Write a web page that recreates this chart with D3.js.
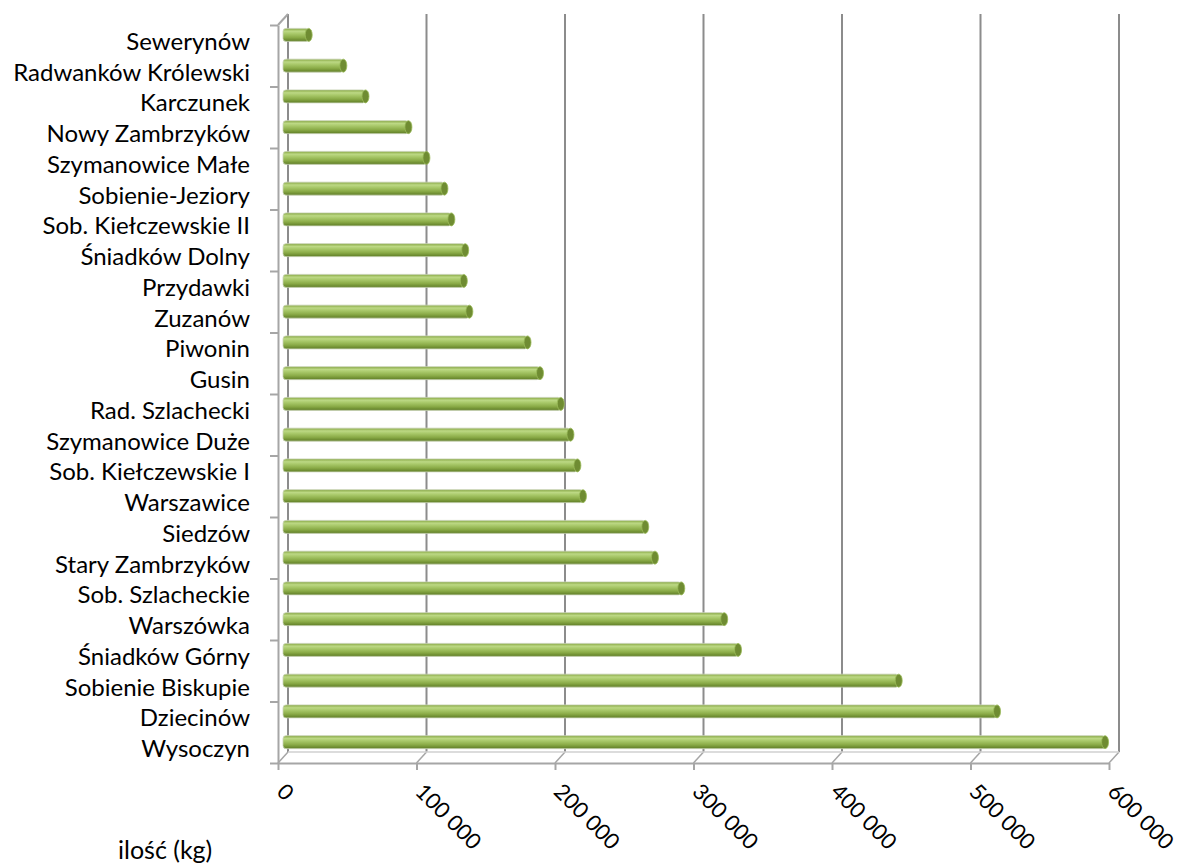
<!DOCTYPE html>
<html>
<head>
<meta charset="utf-8">
<title>ilość (kg)</title>
<script src="https://d3js.org/d3.v7.min.js"></script>
<style>
    body { margin: 0; background: #fff; }
    text { font-family: Lato, "Open Sans", sans-serif; fill: #000; }
</style>
</head>
<body>
<svg width="1182" height="864"></svg>
<script>
    const width = 1182;
    const height = 864;

    // data, top to bottom
    const categories = [
        "Sewerynów", "Radwanków Królewski", "Karczunek", "Nowy Zambrzyków",
        "Szymanowice Małe", "Sobienie-Jeziory", "Sob. Kiełczewskie II", "Śniadków Dolny",
        "Przydawki", "Zuzanów", "Piwonin", "Gusin", "Rad. Szlachecki",
        "Szymanowice Duże", "Sob. Kiełczewskie I", "Warszawice", "Siedzów",
        "Stary Zambrzyków", "Sob. Szlacheckie", "Warszówka", "Śniadków Górny",
        "Sobienie Biskupie", "Dziecinów", "Wysoczyn"
    ];
    const values = [
        20000, 45000, 61000, 92000,
        105000, 118000, 123000, 133000,
        132000, 136000, 178000, 187000, 202000,
        209000, 214000, 218000, 263000,
        270000, 289000, 320000, 330000,
        446000, 517000, 595000
    ];
    const xTicks = [0, 100000, 200000, 300000, 400000, 500000, 600000];
    const axisTitle = "ilość (kg)";

    const svg = d3.select("svg");

    // 3d depth offset of the back wall
    const dx = 10, dy = -11;

    const x = d3.scaleLinear().domain([0, 600000]).range([278, 1109]);
    const y = d3.scaleBand().domain(categories).range([25, 763]);

    const fmt = v => d3.format(",")(v).replace(/,/g, " ");

    const defs = svg.append("defs");
    const grad = defs.append("linearGradient")
        .attr("id", "cyl")
        .attr("x1", 0).attr("y1", 0).attr("x2", 0).attr("y2", 1);
    [["0%", "#86a642"], ["22%", "#bcd884"], ["40%", "#a9c96a"], ["70%", "#8aab47"], ["100%", "#5f7d26"]]
        .forEach(s => grad.append("stop").attr("offset", s[0]).attr("stop-color", s[1]));

    const gridColor = "#8c8c8c";
    const axisColor = "#a6a6a6";

    // walls / floor outline
    const frame = svg.append("g").attr("fill", "none");
    const yTop = y.range()[0], yBottom = y.range()[1];
    const x0 = x(0), x1 = x(600000);

    // back gridlines with floor connectors
    xTicks.forEach(t => {
        frame.append("line")
            .attr("x1", x(t) + dx).attr("x2", x(t) + dx)
            .attr("y1", yTop + dy).attr("y2", yBottom + dy)
            .attr("stroke", gridColor).attr("stroke-width", 2);
        frame.append("line")
            .attr("x1", x(t)).attr("y1", yBottom)
            .attr("x2", x(t) + dx).attr("y2", yBottom + dy)
            .attr("stroke", axisColor).attr("stroke-width", 1.5);
    });

    // back floor edge and left wall
    frame.append("line")
        .attr("x1", x0 + dx).attr("x2", x1 + dx)
        .attr("y1", yBottom + dy).attr("y2", yBottom + dy)
        .attr("stroke", "#d0d0d0").attr("stroke-width", 1.5);
    frame.append("line")
        .attr("x1", x0).attr("y1", yTop)
        .attr("x2", x0 + dx).attr("y2", yTop + dy)
        .attr("stroke", axisColor).attr("stroke-width", 2);

    // bars (cylinders) at mid depth
    const bh = 13;
    const bars = svg.append("g");
    const rows = bars.selectAll("g")
        .data(categories.map((c, i) => ({ c, v: values[i] })))
        .join("g")
        .attr("transform", d => `translate(0,${y(d.c) + y.bandwidth() / 2 + dy / 2})`);

    rows.append("rect")
        .attr("x", x(0) + dx / 2)
        .attr("y", -bh / 2)
        .attr("width", d => x(d.v) - x(0) - 2)
        .attr("height", bh)
        .attr("rx", 3)
        .attr("fill", "url(#cyl)")
        .attr("stroke", "#c9d3b8")
        .attr("stroke-width", 0.8);

    rows.append("ellipse")
        .attr("cx", d => x(d.v) + dx / 2 - 2)
        .attr("cy", 0)
        .attr("rx", 3.5)
        .attr("ry", bh / 2)
        .attr("fill", "#6f8c32")
        .attr("stroke", "#9bbb59")
        .attr("stroke-width", 0.8);

    // front axes
    const xAxis = svg.append("g")
        .attr("transform", `translate(0,${yBottom})`)
        .call(d3.axisBottom(x).tickValues(xTicks).tickFormat(fmt).tickSize(7).tickSizeOuter(0));
    xAxis.select(".domain").attr("stroke", axisColor).attr("stroke-width", 2);
    xAxis.selectAll(".tick line").attr("stroke", axisColor).attr("stroke-width", 2);
    xAxis.selectAll(".tick text")
        .attr("font-size", 22)
        .attr("text-anchor", "start")
        .attr("y", 0)
        .attr("dy", 0)
        .attr("transform", "translate(-3,30) rotate(45)");

    const yAxis = svg.append("g")
        .attr("transform", `translate(${x0},0)`)
        .call(d3.axisLeft(y).tickSize(0).tickPadding(28));
    yAxis.select(".domain").attr("stroke", axisColor).attr("stroke-width", 2);
    yAxis.selectAll(".tick text")
        .attr("font-size", 24)
        .attr("dy", "0.4em");

    // category tick marks every two rows
    const yLin = d3.scaleLinear().domain([0, categories.length]).range([yTop, yBottom]);
    svg.append("g")
        .attr("transform", `translate(${x0},0)`)
        .call(d3.axisLeft(yLin).tickValues(d3.range(0, categories.length + 1, 2)).tickSize(8).tickFormat(""))
        .call(g => g.select(".domain").remove())
        .selectAll(".tick line").attr("stroke", axisColor).attr("stroke-width", 2);

    svg.append("text")
        .attr("x", 118)
        .attr("y", 859)
        .attr("font-size", 25)
        .text(axisTitle);
</script>
</body>
</html>
